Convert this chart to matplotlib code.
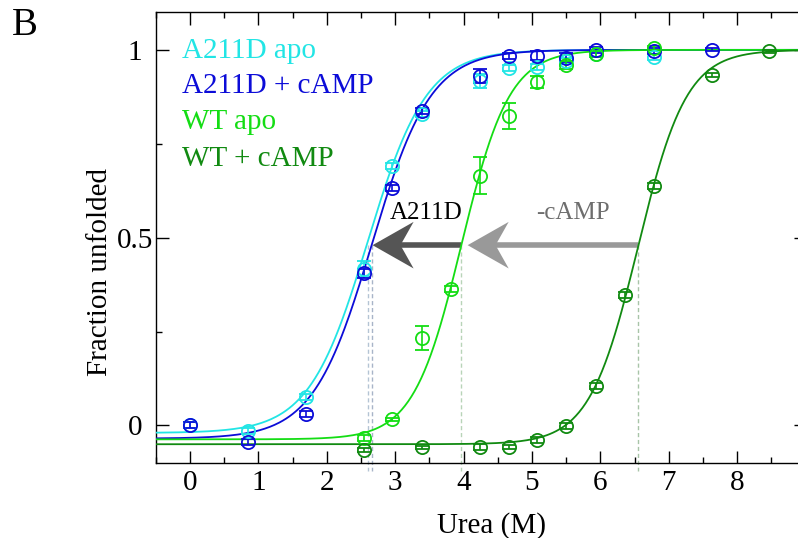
import numpy as np
import matplotlib
matplotlib.use('Agg')
import matplotlib.pyplot as plt
from matplotlib.patches import Polygon

plt.rcParams['font.family'] = ['Liberation Serif', 'DejaVu Serif']

# data (urea M, fraction unfolded, error)
x_a211d_apo = [0, 0.85, 1.69, 2.54, 2.96, 3.39, 4.24, 4.66, 5.08, 5.50, 5.93, 6.78]
y_a211d_apo = [0.0, -0.016, 0.077, 0.417, 0.69, 0.83, 0.918, 0.952, 0.955, 0.97, 0.99, 0.98]
e_a211d_apo = [0.008, 0.008, 0.008, 0.022, 0.008, 0.008, 0.019, 0.008, 0.008, 0.008, 0.008, 0.008]

x_a211d_camp = [0, 0.85, 1.69, 2.54, 2.96, 3.39, 4.24, 4.66, 5.08, 5.50, 5.93, 6.78, 7.63]
y_a211d_camp = [0.0, -0.043, 0.03, 0.405, 0.633, 0.838, 0.93, 0.984, 0.984, 0.979, 1.0, 0.997, 1.0]
e_a211d_camp = [0.008, 0.008, 0.008, 0.012, 0.008, 0.008, 0.019, 0.008, 0.012, 0.012, 0.008, 0.008, 0.004]

x_wt_apo = [2.54, 2.96, 3.39, 3.81, 4.24, 4.66, 5.08, 5.50, 5.93, 6.78]
y_wt_apo = [-0.034, 0.016, 0.234, 0.362, 0.665, 0.824, 0.915, 0.96, 0.99, 1.005]
e_wt_apo = [0.008, 0.004, 0.032, 0.008, 0.05, 0.035, 0.016, 0.01, 0.008, 0.006]

x_wt_camp = [2.54, 3.39, 4.24, 4.66, 5.08, 5.50, 5.93, 6.36, 6.78, 7.63, 8.47]
y_wt_camp = [-0.066, -0.058, -0.058, -0.058, -0.038, -0.002, 0.104, 0.348, 0.638, 0.933, 0.997]
e_wt_camp = [0.006, 0.004, 0.008, 0.006, 0.008, 0.008, 0.008, 0.008, 0.008, 0.006, 0.004]

# two-state fit parameters: midpoint, slope, baseline
fit_mid = [2.60, 2.66, 3.97, 6.55]
fit_slope = [0.43, 0.43, 0.35, 0.355]
fit_base = [-0.02, -0.035, -0.037, -0.05]

labels = ['A211D apo', 'A211D + cAMP', 'WT apo', 'WT + cAMP']
colors = ['#22e5e5', '#0c0cd8', '#14dd14', '#118a11']
guide_colors = ['#b4c4d4', '#a8b4c8', '#b8d4b8', '#a8c4a8']

xs = [x_a211d_apo, x_a211d_camp, x_wt_apo, x_wt_camp]
ys = [y_a211d_apo, y_a211d_camp, y_wt_apo, y_wt_camp]
es = [e_a211d_apo, e_a211d_camp, e_wt_apo, e_wt_camp]

arrow_y = 0.48

fig = plt.figure(figsize=(7.98, 5.38), dpi=100)
ax = fig.add_axes([0.1951, 0.1394, 0.8144, 0.8377])

xx = np.linspace(-0.5, 9, 400)
for i in range(4):
    # guide line from midpoint to below the axis
    ax.plot([fit_mid[i], fit_mid[i]], [arrow_y, -0.12], color=guide_colors[i],
            lw=1, ls=(0, (3, 2)), clip_on=False, zorder=1)

for i in range(4):
    yy = fit_base[i] + (1 - fit_base[i]) / (1 + np.exp(-(xx - fit_mid[i]) / fit_slope[i]))
    ax.plot(xx, yy, color=colors[i], lw=1.3, zorder=3)
    ax.errorbar(xs[i], ys[i], yerr=es[i], fmt='o', mfc='none', mec=colors[i],
                ecolor=colors[i], ms=9.5, mew=1.3, elinewidth=1.2, capsize=5,
                capthick=1.2, zorder=4)

# arrows
def stealth(x_tip, x_tail, y, color, lw):
    L, H = 0.6, 0.062
    ax.plot([x_tip + 0.6 * L, x_tail], [y, y], color=color, lw=lw, solid_capstyle='butt', zorder=2)
    pts = [(x_tip, y), (x_tip + L, y + H), (x_tip + 0.68 * L, y), (x_tip + L, y - H)]
    ax.add_patch(Polygon(pts, closed=True, color=color, lw=0, zorder=2))

stealth(2.67, 3.96, arrow_y, '#555555', 4)
stealth(4.06, 6.55, arrow_y, '#999999', 4)
ax.text(3.46, 0.551, 'A211D', fontsize=18, color='black', ha='center', va='baseline')
ax.text(5.60, 0.551, '-cAMP', fontsize=18, color='#6e6e6e', ha='center', va='baseline')

# legend as coloured text
leg_y = [0.898, 0.822, 0.741, 0.658]
for lab, c, ly in zip(labels, colors, leg_y):
    ax.text(0.0405, ly, lab, color=c, fontsize=21, transform=ax.transAxes,
            ha='left', va='baseline')

ax.set_xlim(-0.5, 9)
ax.set_ylim(-0.1, 1.1)
ax.set_xticks(range(0, 9))
ax.set_xticks(np.arange(-0.5, 9, 0.5), minor=True)
ax.set_yticks([0, 0.5, 1])
ax.set_yticklabels(['0', '0.5', '1'], ha='center')
ax.set_yticks([0.25, 0.75], minor=True)
ax.tick_params(which='both', direction='in', top=True, right=True, width=1.0,
               labelsize=21)
ax.tick_params(axis='x', pad=5)
ax.tick_params(axis='y', pad=14.9)
ax.tick_params(which='major', length=9)
ax.tick_params(which='minor', length=4.5)
for s in ax.spines.values():
    s.set_linewidth(1.0)

ax.set_xlabel('Urea (M)', fontsize=21, va='baseline')
ax.xaxis.set_label_coords(0.5167, -0.1553)
ax.set_ylabel('Fraction unfolded', fontsize=21, va='baseline')
ax.yaxis.set_label_coords(-0.0749, 0.423)

fig.text(0.0313, 0.9535, 'B', fontsize=28, ha='center', va='center')

fig.savefig('out.png', dpi=100)
